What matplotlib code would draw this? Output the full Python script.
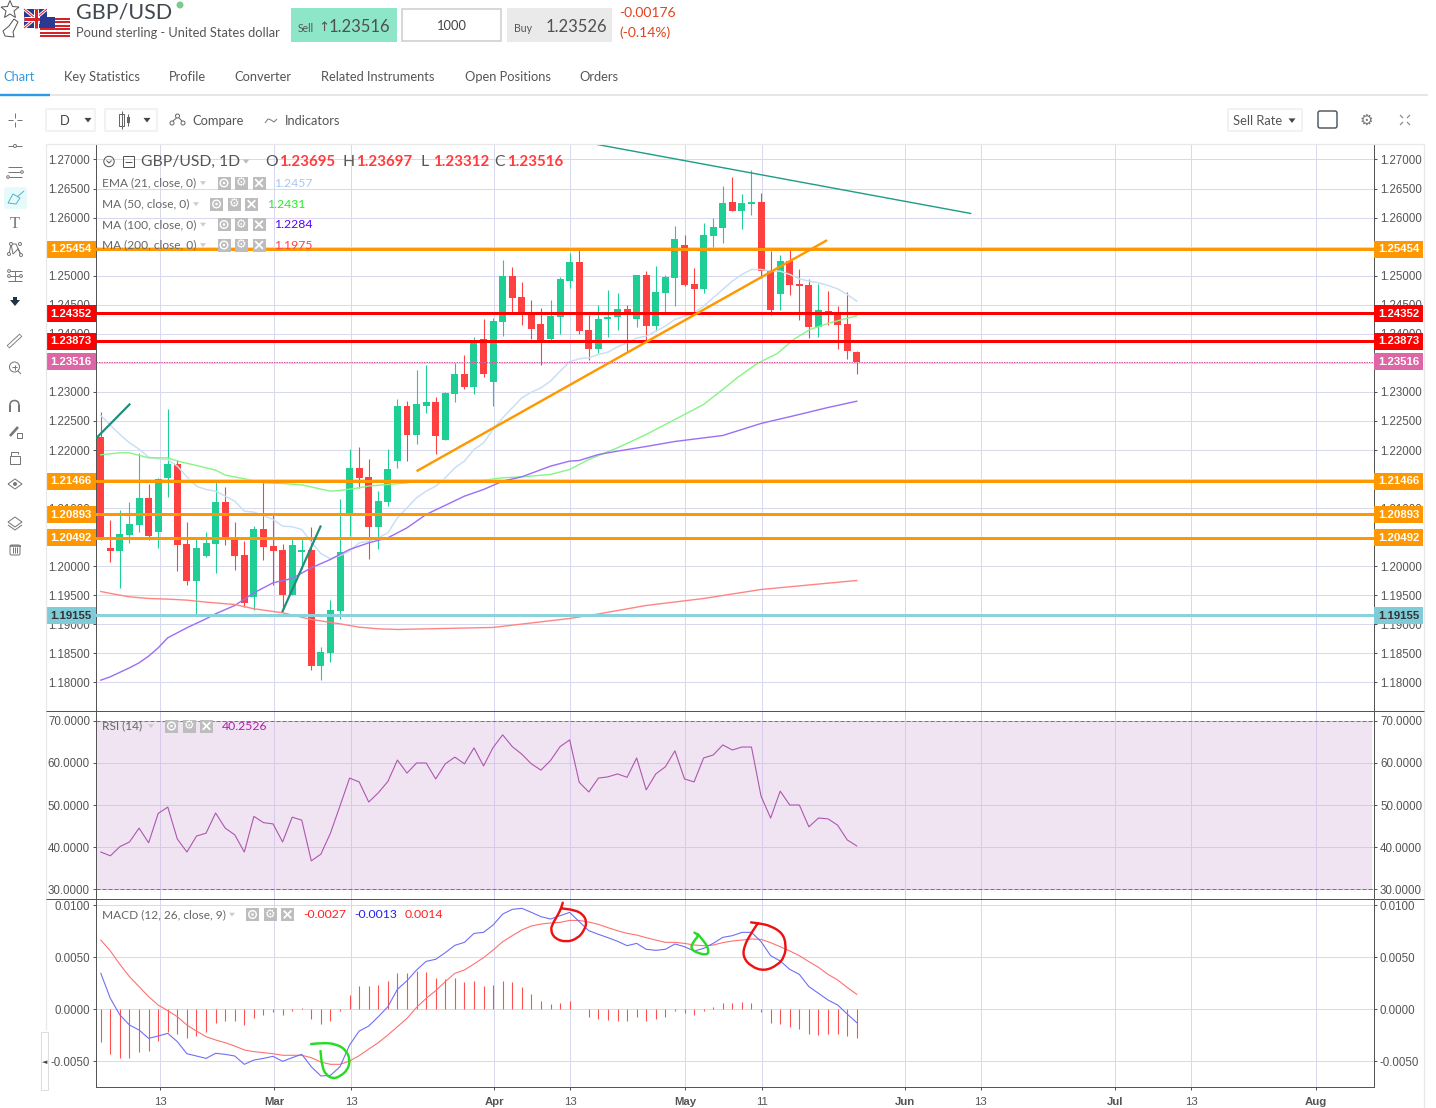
import matplotlib
matplotlib.use("Agg")
import matplotlib.pyplot as plt
from matplotlib.patches import Rectangle, Polygon, Circle, FancyBboxPatch, PathPatch
from matplotlib.path import Path

# ---------------- data ----------------
opens = [1.22216,1.20306,1.20260,1.20530,1.20702,1.21166,1.20581,1.21510,1.21751,1.20375,
 1.19738,1.20168,1.20375,1.21097,1.20489,1.20185,1.19463,1.20633,1.20340,1.20271,
 1.19497,1.20237,1.20271,1.18275,1.18499,1.19222,1.20856,1.21682,1.21528,1.20667,
 1.21097,1.21803,1.22749,1.22250,1.22766,1.22818,1.22164,1.22956,1.23300,1.23093,
 1.23902,1.23179,1.24195,1.24986,1.24625,1.24350,1.24160,1.23902,1.24281,1.24917,
 1.25244,1.24057,1.23730,1.24247,1.24281,1.24419,1.24247,1.25004,1.24126,1.24694,
 1.24952,1.25520,1.24849,1.24763,1.25675,1.25813,1.26260,1.26105,1.26226,1.26260,
 1.25090,1.24677,1.25245,1.24849,1.24832,1.24109,1.24396,1.24361,1.24161,1.23695]
highs = [1.22658,1.20788,1.20960,1.21097,1.21941,1.21407,1.21522,1.22698,1.21820,1.20753,
 1.20478,1.20581,1.21459,1.21356,1.20753,1.20426,1.20684,1.21442,1.20874,1.20375,
 1.20478,1.20478,1.20667,1.18602,1.19411,1.21149,1.22009,1.22044,1.21837,1.21287,
 1.22009,1.22870,1.22835,1.23369,1.23455,1.22904,1.22990,1.23506,1.23627,1.23937,
 1.24246,1.24264,1.25262,1.25141,1.24883,1.24573,1.24436,1.24573,1.24969,1.25382,
 1.25434,1.24332,1.24504,1.24746,1.24694,1.24488,1.25004,1.25073,1.25159,1.25004,
 1.25847,1.25692,1.25124,1.25899,1.25985,1.26535,1.26690,1.26398,1.26811,1.26415,
 1.25417,1.25348,1.25434,1.25107,1.24935,1.24849,1.24728,1.24470,1.24711,1.23697]
lows = [1.20444,1.20071,1.19618,1.20392,1.20581,1.20444,1.20306,1.21183,1.19910,1.19669,
 1.19170,1.20151,1.19876,1.20357,1.19927,1.19291,1.19239,1.20099,1.19669,1.19239,
 1.19497,1.19944,1.18206,1.18034,1.18344,1.19084,1.20518,1.21338,1.20117,1.20289,
 1.21029,1.21682,1.21803,1.22095,1.22629,1.21923,1.22164,1.22818,1.23042,1.22956,
 1.23248,1.22749,1.23954,1.24361,1.24143,1.23902,1.23455,1.23885,1.23988,1.24780,
 1.24005,1.23541,1.23678,1.23937,1.24057,1.23679,1.24109,1.23885,1.24040,1.24361,
 1.24470,1.24815,1.24361,1.24694,1.25486,1.25554,1.26105,1.25795,1.26036,1.24952,
 1.24315,1.24402,1.24660,1.24229,1.23920,1.23937,1.24143,1.23730,1.23558,1.23312]
closes = [1.20461,1.20260,1.20547,1.20719,1.21166,1.20512,1.21493,1.21751,1.20357,1.19738,
 1.20306,1.20392,1.21097,1.20461,1.20168,1.19359,1.20633,1.20323,1.20254,1.19497,
 1.20357,1.20271,1.18275,1.18516,1.19239,1.20237,1.21682,1.21510,1.20667,1.21115,
 1.21665,1.22749,1.22250,1.22784,1.22818,1.22233,1.22973,1.23300,1.23093,1.23868,
 1.23300,1.24212,1.24986,1.24608,1.24350,1.24091,1.23885,1.24298,1.24935,1.25244,
 1.24040,1.23730,1.24246,1.24281,1.24419,1.24373,1.25004,1.24126,1.24711,1.24969,
 1.25623,1.24832,1.24763,1.25692,1.25830,1.26243,1.26105,1.26243,1.26260,1.25073,
 1.24402,1.25245,1.24832,1.24815,1.24109,1.24402,1.24350,1.24143,1.23696,1.23516]

ema21 = [1.22594,1.22428,1.22268,1.22124,1.22015,1.21877,1.21849,1.21837,1.21723,1.21539,
 1.21378,1.21321,1.21292,1.21206,1.21120,1.20948,1.20931,1.20874,1.20805,1.20690,
 1.20679,1.20633,1.20415,1.20220,1.20128,1.20185,1.20260,1.20403,1.20432,1.20489,
 1.20575,1.20833,1.21006,1.21178,1.21292,1.21378,1.21522,1.21694,1.21809,1.22009,
 1.22124,1.22353,1.22554,1.22726,1.22898,1.22996,1.23070,1.23185,1.23357,1.23518,
 1.23570,1.23587,1.23644,1.23684,1.23776,1.23845,1.23925,1.23960,1.24046,1.24132,
 1.24247,1.24304,1.24361,1.24476,1.24619,1.24763,1.24906,1.25021,1.25107,1.25107,
 1.25078,1.25078,1.25021,1.24946,1.24906,1.24878,1.24832,1.24774,1.24677,1.24562]
ma50_idx = [0,2,3,5,7,8,10,12,13,15,17,19,21,24,25,27,28,30,32,33,36,40,42,44,47,49,51,54,57,60,63,65,66.5,68.6,70.7,72.4,74.1,76.2,79]
ma50_val = [1.21918,1.21952,1.21952,1.21866,1.21866,1.21809,1.21734,1.21654,1.21568,1.21505,1.21436,1.21424,1.21401,1.21292,1.21304,1.21350,1.21380,1.21407,1.21436,1.21464,1.21470,1.21480,1.21522,1.21539,1.21579,1.21665,1.21837,1.22038,1.22268,1.22526,1.22784,1.23042,1.23243,1.23489,1.23661,1.23902,1.24074,1.24189,1.24310]
ma100_idx = [0,1,3,4,5,6,7,9,11,12,14,16,18,20,22,24,26,28,30,32,34,38,40,42,44,47,49,50,52,54,57,60,65,69,73,76,79]
ma100_val = [1.18040,1.18098,1.18252,1.18338,1.18453,1.18596,1.18769,1.18941,1.19096,1.19182,1.19325,1.19543,1.19715,1.19790,1.19973,1.20117,1.20289,1.20403,1.20489,1.20661,1.20891,1.21206,1.21321,1.21464,1.21539,1.21723,1.21809,1.21820,1.21923,1.21981,1.22061,1.22147,1.22250,1.22457,1.22612,1.22732,1.22840]
ma200_idx = [0,1,3,5,7,9,11,14,16,19,22,25,27,29,31,41,45,49,52,57,63,69,79]
ma200_val = [1.19566,1.19532,1.19474,1.19445,1.19434,1.19417,1.19382,1.19342,1.19268,1.19199,1.19084,1.19009,1.18952,1.18923,1.18912,1.18947,1.19024,1.19101,1.19179,1.19325,1.19445,1.19600,1.19755]

rsi = [38.8,37.9,40.1,41.2,44.5,41.0,48.0,49.5,41.9,38.8,42.6,43.3,48.1,44.5,42.9,38.8,47.3,45.8,45.5,41.2,
 47.1,46.4,36.7,38.3,43.3,49.8,56.4,55.5,50.7,52.9,55.6,60.7,57.6,60.0,60.0,56.2,59.8,61.4,59.8,63.6,
 59.3,63.7,66.7,63.9,62.1,59.8,58.3,60.6,63.9,65.5,55.4,53.1,56.4,56.7,57.4,56.6,61.2,53.6,57.4,59.1,
 62.9,56.2,55.5,61.2,61.9,64.3,63.1,63.8,63.8,52.1,46.9,53.3,50.0,50.0,44.8,46.9,46.7,45.2,41.7,40.25]

macd = [.00343,.00102,-.00058,-.00154,-.00202,-.00282,-.00260,-.00234,-.00314,-.00430,
 -.00452,-.00475,-.00426,-.00436,-.00452,-.00532,-.00491,-.00475,-.00455,-.00503,
 -.00468,-.00436,-.00555,-.00644,-.00638,-.00555,-.00346,-.00212,-.00164,-.00074,
 .00022,.00189,.00272,.00375,.00458,.00478,.00542,.00612,.00641,.00727,
 .00737,.00808,.00913,.00958,.00968,.00929,.00888,.00865,.00897,.00929,
 .00840,.00753,.00718,.00686,.00651,.00609,.00631,.00574,.00564,.00574,
 .00625,.00599,.00558,.00583,.00631,.00689,.00705,.00737,.00737,.00648,
 .00513,.00462,.00381,.00333,.00215,.00151,.00086,.00039,-.00048,-.00131]
signal = [.00663,.00558,.00429,.00311,.00215,.00119,.00038,-.00016,-.00074,-.00154,
 -.00212,-.00266,-.00298,-.00324,-.00356,-.00394,-.00410,-.00420,-.00430,-.00445,
 -.00445,-.00445,-.00468,-.00510,-.00532,-.00532,-.00500,-.00449,-.00385,-.00324,
 -.00250,-.00170,-.00090,.00016,.00102,.00176,.00263,.00343,.00375,.00433,
 .00494,.00567,.00647,.00705,.00760,.00798,.00817,.00827,.00833,.00852,
 .00852,.00836,.00814,.00782,.00753,.00727,.00711,.00686,.00663,.00641,
 .00641,.00631,.00615,.00609,.00615,.00638,.00654,.00663,.00673,.00670,
 .00638,.00599,.00558,.00513,.00455,.00401,.00333,.00279,.00208,.00141]
hist = [-.00314,-.00429,-.00468,-.00468,-.00410,-.00401,-.00304,-.00218,-.00237,-.00276,
 -.00256,-.00218,-.00131,-.00112,-.00112,-.00151,-.00083,-.00054,-.00026,-.00054,
 -.00016,.00006,-.00093,-.00141,-.00112,-.00016,.00135,.00221,.00221,.00231,
 .00269,.00346,.00346,.00365,.00356,.00298,.00288,.00298,.00260,.00269,
 .00221,.00231,.00269,.00260,.00212,.00144,.00077,.00048,.00058,.00077,
 0,-.00077,-.00096,-.00106,-.00115,-.00115,-.00077,-.00115,-.00096,-.00077,
 -.00019,-.00038,-.00058,-.00019,.00019,.00058,.00058,.00067,.00058,-.00026,
 -.00135,-.00144,-.00173,-.00192,-.00240,-.00250,-.00240,-.00240,-.00260,-.00279]

orange_levels = [1.25454,1.21466,1.20893,1.20492]
red_levels = [1.24352,1.23873]
last_level = 1.23516
teal_level = 1.19155

price_ticks = [1.18,1.185,1.19,1.195,1.20,1.205,1.21,1.215,1.22,1.225,1.23,1.235,1.24,1.245,1.25,1.255,1.26,1.265,1.27]
hidden_price_labels = [1.205,1.215,1.235,1.255]   # covered by the level tags in the reference
rsi_ticks = [30,40,50,60,70]
macd_ticks = [-0.005,0.0,0.005,0.01]
date_pos = [6.22,18.13,26.18,41.12,49.06,61.08,69.07,84.04,91.98,105.99,113.93,127.02]
date_lbl = ["13","Mar","13","Apr","13","May","11","Jun","13","Jul","13","Aug"]

trend_orange = ([33.0,75.9],[1.21636,1.25611])
trend_teal = ([51.3,90.9],[1.27275,1.26071])
trend_g1 = ([-0.4,3.0],[1.22216,1.22784])
trend_g2 = ([19.0,22.96],[1.19227,1.20684])

scribble_g1 = ([21.98,23.2,24.6,25.64,26.06,25.8,24.94,24.25,23.55,23.13,22.96],
               [-.00337,-.00324,-.00337,-.00394,-.00491,-.00587,-.00651,-.00670,-.00635,-.00555,-.00404])
scribble_r1 = ([48.28,48.11,47.76,47.24,47.0,47.41,48.63,49.85,50.55,50.79,50.37,49.5,48.11],
               [.01022,.00968,.00904,.00824,.00760,.00679,.00641,.00679,.00760,.00840,.00913,.00952,.00968])
scribble_g2 = ([62.04,62.56,62.04,61.59,62.39,63.54,63.43,62.91,62.39],
               [.00734,.00711,.00663,.00583,.00535,.00519,.00599,.00663,.00721])
scribble_r2 = ([67.96,68.83,70.05,71.27,71.62,71.45,70.75,69.36,67.96,67.09,67.27,67.96,68.66],
               [.00833,.00824,.00798,.00727,.00615,.00503,.00423,.00365,.00407,.00503,.00615,.00727,.00824])

# ---------------- layout ----------------
W, H = 1436, 1108
fig = plt.figure(figsize=(W/100, H/100), dpi=100, facecolor="white")
px = 0.72
TICKF = ["Liberation Sans", "DejaVu Sans"]
UIF = ["Lato", "DejaVu Sans"]
L, R = 96, 1374
XMIN, XMAX = -0.5, 133.054
GRID = "#D9D9EE"; TXT = "#555555"; DARK = "#555555"
UP = "#1FCE94"; DOWN = "#FF4040"

def panel(top, bottom):
    a = fig.add_axes([L/W, 1-bottom/H, (R-L)/W, (bottom-top)/H])
    a.set_xlim(XMIN, XMAX)
    a.set_xticks(date_pos)
    a.grid(True, color=GRID, lw=1*px)
    a.set_axisbelow(True)
    a.tick_params(axis="y", left=True, right=True, labelleft=True, labelright=True,
                  length=3*px, width=1*px, color=DARK, labelsize=8.3, labelcolor=TXT, pad=3*px)
    a.tick_params(axis="x", length=0, labelbottom=False)
    for s in a.spines.values():
        s.set_color(DARK); s.set_linewidth(1*px)
    return a

# main
ax = panel(144, 711)
ax.set_ylim(1.17518-0.00009, 1.27275-0.00009)
ax.set_yticks(price_ticks)
ax.set_yticklabels(["" if v in hidden_price_labels else f"{v:.5f}" for v in price_ticks], family=TICKF)
ax.spines["top"].set_visible(False)
idx = list(range(len(closes)))
cols = [UP if c >= o else DOWN for o, c in zip(opens, closes)]
ax.vlines(idx, lows, highs, colors=cols, lw=1.1*px, zorder=3)
ax.bar(idx, [max(abs(c-o), 0.00025) for o, c in zip(opens, closes)],
       bottom=[min(o, c) for o, c in zip(opens, closes)], width=0.73, color=cols, lw=0, zorder=3.1)
ax.plot(idx, ema21, color="#CADFF3", lw=1.5*px, zorder=3.3)
ax.plot(ma50_idx, ma50_val, color="#86F586", lw=1.4*px, zorder=3.3)
ax.plot(ma100_idx, ma100_val, color="#9B6FF5", lw=1.4*px, zorder=3.3)
ax.plot(ma200_idx, ma200_val, color="#FF8585", lw=1.4*px, zorder=3.3)
for v in orange_levels:
    ax.axhline(v, color="#FF9800", lw=3*px, zorder=4)
for v in red_levels:
    ax.axhline(v, color="#FF0000", lw=3*px, zorder=4)
ax.axhline(last_level, color="#E0559F", lw=1*px, ls=(0, (1.5, 1)), zorder=4)
ax.axhline(teal_level, color="#8CD2DA", lw=3*px, zorder=4)
ax.plot(*trend_orange, color="#FF9800", lw=2.4*px, zorder=4.2, solid_capstyle="butt")
ax.plot(*trend_teal, color="#1E9C84", lw=1.4*px, zorder=4.2)
ax.plot(*trend_g1, color="#1E8F7C", lw=2.2*px, zorder=4.2)
ax.plot(*trend_g2, color="#1E8F7C", lw=2.2*px, zorder=4.2)

h_tag = 17/5811
def tag(v, col, fc="white"):
    tr = ax.get_yaxis_transform()
    wl, wr = 50/(R-L), 49/(R-L)
    for x0, w, xc in ((-wl, wl, -wl/2), (1, wr, 1+wr/2)):
        ax.add_patch(Rectangle((x0, v-h_tag/2), w, h_tag, transform=tr, clip_on=False,
                               facecolor=col, edgecolor="none", zorder=20))
        ax.text(xc, v-0.00003, f"{v:.5f}", transform=tr, ha="center", va="center", color=fc,
                fontsize=8.2, fontweight="bold", family=TICKF, zorder=21, clip_on=False)
for v in orange_levels:
    tag(v, "#FF9800")
for v in red_levels:
    tag(v, "#FF0000")
tag(last_level, "#DD66A6")
tag(teal_level, "#7FCCD8", "#333333")

# RSI
ax2 = panel(711, 899)
ax2.set_ylim(27.62, 72.38)
ax2.set_yticks(rsi_ticks)
ax2.set_yticklabels([f"{v:.4f}" for v in rsi_ticks], family=TICKF)
ax2.axhspan(30, 70, xmin=0, xmax=0.9985, color="#F0E4F2", lw=0, zorder=0.1)
ax2.grid(True, color="#D6C9EA", lw=1*px)
ax2.axhline(70, color="#777777", lw=1*px, ls=(0, (4, 2)), zorder=2)
ax2.axhline(30, color="#777777", lw=1*px, ls=(0, (4, 2)), zorder=2)
ax2.plot(idx, rsi, color="#AE55B0", lw=1.1*px, zorder=3)

# MACD
ax3 = panel(899, 1087)
ax3.set_ylim(-0.0075, 0.010577)
ax3.set_yticks(macd_ticks)
ax3.set_yticklabels([f"{v:.4f}" for v in macd_ticks], family=TICKF)
ax3.vlines(idx, 0, hist, colors="#FF5050", lw=1.1*px, zorder=3)
ax3.plot(idx, macd, color="#6E6EF5", lw=1.1*px, zorder=3.2)
ax3.plot(idx, signal, color="#FF7070", lw=1.1*px, zorder=3.1)

def freehand(a, xs, ys, col):
    # quadratic curve through the midpoints of the hand-drawn stroke's points
    verts, codes = [(xs[0], ys[0])], [Path.MOVETO]
    for k in range(1, len(xs)-1):
        verts += [(xs[k], ys[k]), ((xs[k]+xs[k+1])/2, (ys[k]+ys[k+1])/2)]
        codes += [Path.CURVE3, Path.CURVE3]
    verts.append((xs[-1], ys[-1])); codes.append(Path.LINETO)
    a.add_patch(PathPatch(Path(verts, codes), fc="none", ec=col, lw=2.4*px, zorder=5,
                          capstyle="round", joinstyle="round"))
for sc, col in ((scribble_g1, "#22DD22"), (scribble_g2, "#22DD22"), (scribble_r1, "#EE1111"), (scribble_r2, "#EE1111")):
    freehand(ax3, sc[0], sc[1], col)
ax3.tick_params(axis="x", labelbottom=True, length=3*px, width=1*px, color=DARK, pad=7*px)
ax3.set_xticklabels(date_lbl)
for lab, s in zip(ax3.get_xticklabels(), date_lbl):
    lab.set_family(TICKF); lab.set_fontsize(8.2); lab.set_color(TXT)
    lab.set_fontweight("bold" if s.isalpha() else "normal")

# ---------------- UI overlay (pixel coordinates) ----------------
ui = fig.add_axes([0, 0, 1, 1], zorder=50)
ui.set_xlim(0, W); ui.set_ylim(H, 0); ui.axis("off"); ui.patch.set_alpha(0)

def T(x, y, s, size=9, color="#555555", ha="left", family=UIF, weight="normal", z=60):
    return ui.text(x, y+0.7, s, fontsize=size, color=color, ha=ha, va="center", family=family, fontweight=weight, zorder=z)
def B(x0, y0, x1, y1, fc="none", ec="none", lw=1, z=55, rounded=0):
    if rounded:
        p = FancyBboxPatch((x0, y0), x1-x0, y1-y0, boxstyle=f"round,pad=0,rounding_size={rounded}", fc=fc, ec=ec, lw=lw*px, zorder=z)
    else:
        p = Rectangle((x0, y0), x1-x0, y1-y0, fc=fc, ec=ec, lw=lw*px, zorder=z)
    ui.add_patch(p)
def LN(xs, ys, c="#666666", lw=1, z=56):
    ui.plot(xs, ys, color=c, lw=lw*px, zorder=z, solid_capstyle="butt")
def CI(x, y, r, fc="none", ec="#777777", lw=1, z=57):
    ui.add_patch(Circle((x, y), r, fc=fc, ec=ec, lw=lw*px, zorder=z))
def caret(x, y, c="#444444", s=3.5):
    ui.add_patch(Polygon([(x-s, y-s*0.6), (x+s, y-s*0.6), (x, y+s*0.7)], fc=c, ec="none", zorder=58))

# star + bell icons
star = [(10,0.5),(12.5,6.5),(19,7),(14,11),(15.5,17.5),(10,14),(4.5,17.5),(6,11),(1,7),(7.5,6.5)]
ui.add_patch(Polygon(star, fc="white", ec="#555555", lw=1*px, zorder=56))
ui.add_patch(Polygon([(14,19),(18,22),(13,32),(14,37),(5,36),(3,31),(9,26)], fc="white", ec="#555555", lw=1*px, zorder=56))
# flags
B(24, 9, 47, 28, fc="#2B3990")
LN([24,47],[9,28],"white",3); LN([24,47],[28,9],"white",3)
LN([24,47],[9,28],"#D8222A",1); LN([24,47],[28,9],"#D8222A",1)
LN([35.5,35.5],[9,28],"white",5); LN([24,47],[18.5,18.5],"white",5)
LN([35.5,35.5],[9,28],"#D8222A",3); LN([24,47],[18.5,18.5],"#D8222A",3)
B(40, 17, 70, 37, fc="white", z=56)
for yy in (18.5, 22, 25.5, 29, 32.5, 36):
    LN([40,70],[yy,yy],"#D8222A",2, z=57)
B(40, 17, 55, 28, fc="#2B3990", z=58)

T(76, 11.5, "GBP/USD", 15.5, "#404850")
ui.add_patch(Circle((180, 5), 3.5, fc="#7BCB8E", ec="none", zorder=58))
T(76, 32, "Pound sterling - United States dollar", 9.3, "#555555")
B(291, 8, 397, 42, fc="#8DE6C7")
T(298, 27.5, "Sell", 7.6, "#555555")
T(318, 26.5, "↑", 9.5, "#555555", family=["DejaVu Sans"])
T(329, 26.5, "1.23516", 12, "#505050")
B(402, 9, 501, 41, fc="white", ec="#CCCCCC", lw=1.5)
T(452, 25.5, "1000", 9.3, "#444444", ha="center")
B(507, 8, 612, 42, fc="#EAEAEA")
T(514, 28, "Buy", 7.6, "#555555")
T(546, 26.5, "1.23526", 12, "#505050")
T(619, 12, "-0.00176", 10, "#E2431E")
T(619, 32, "(-0.14%)", 10, "#E2431E")

for x, s, c in ((3,"Chart","#2E9BE6"),(64,"Key Statistics","#555555"),(169,"Profile","#555555"),(234,"Converter","#555555"),
                (321,"Related Instruments","#555555"),(465,"Open Positions","#555555"),(579,"Orders","#555555")):
    T(x, 76, s, 9.3, c)
LN([0,1428],[95,95],"#E6E6E6",2)
LN([0,50],[95,95],"#2E9BE6",2.4, z=57)

# toolbar
B(46, 109, 95, 131, fc="white", ec="#EEEEEE", lw=1.5)
T(65, 120, "D", 9.3, "#444444", ha="center")
caret(88, 120)
B(105, 109, 157, 131, fc="white", ec="#EEEEEE", lw=1.5)
B(119, 114, 124, 126, fc="white", ec="#666666")
LN([121.5,121.5],[111,129]); LN([128,128],[114,126]); B(126.5, 117, 129.5, 123, fc="#666666", z=57)
caret(147, 120)
CI(172, 123, 2, ec="#666666"); CI(183, 123, 2, ec="#666666"); CI(177.5, 116, 2, ec="#666666")
LN([173,176.5],[121,118]); LN([179,182],[118,121])
T(192, 120, "Compare", 9.3, "#555555")
LN([265,268,271,274,277],[123,119,120,122,119],"#777777")
T(285, 120, "Indicators", 9.3, "#555555")
B(1228, 109, 1302, 131, fc="white", ec="#EEEEEE", lw=1.5)
T(1233, 120, "Sell Rate", 9.3, "#555555")
caret(1292, 120.5)
B(1318, 111, 1337, 128, fc="white", ec="#44505A", lw=1.4, rounded=2)
T(1366, 119.5, "⚙", 11, "#777777", ha="center", family=["DejaVu Sans"])
for sx, sy in ((-1,-1),(1,-1),(-1,1),(1,1)):
    LN([1405+sx*2, 1405+sx*5],[120+sy*2, 120+sy*5],"#888888",1.2)

# frame and separators
LN([46,1424],[144,144],"#E8E8E8",1.2, z=5)
LN([46,46],[144,1030],"#E8E8E8",1.2, z=5)
LN([1424,1424],[144,1108],"#E8E8E8",1.2, z=5)
LN([46,1424],[711,711],DARK,1, z=5)
LN([46,1424],[899,899],DARK,1, z=5)
B(41, 1032, 48, 1090, fc="white", ec="#DDDDDD", lw=1)
T(44.5, 1061, "◄", 5, "#444444", ha="center", family=["DejaVu Sans"])

# left tool icons
G = "#777777"
LN([8,13],[120,120],G); LN([17,22],[120,120],G); LN([15,15],[113,118],G); LN([15,15],[122,127],G)
LN([8,22],[146,146],G); CI(15,146,1.5,fc="white",ec=G)
LN([8,22],[167,167],G); LN([8,21],[172,172],G); CI(22,172,1.3,fc="white",ec=G); LN([9,22],[177,177],G); CI(8,177,1.3,fc="white",ec=G)
B(4, 187, 27, 209, fc="#E6FAFB", rounded=3, z=54)
LN([8,13,20,16,8],[203,194,198,204,203],"#56B5C6"); LN([17,24],[197,191],"#56B5C6")
T(15, 223.5, "T", 12, "#777777", ha="center", family=["Liberation Serif"])
LN([11,13,18,21,16,11,9],[244,254,249,255,244,244,254],G)
for xx, yy in ((11,244),(21,255),(9,254),(20,244)):
    CI(xx,yy,1.5,fc="white",ec=G)
for yy in (271,276,281): LN([8,22],[yy,yy],G)
LN([15,15],[271,281],G); CI(9,276,1.4,fc="white",ec=G); CI(21,276,1.4,fc="white",ec=G); CI(9,271,1.4,fc="white",ec=G)
ui.add_patch(Polygon([(15,306),(10,300),(13,300),(13,297),(17,297),(17,300),(20,300)], fc="#223344", ec="none", zorder=57))
LN([8,21],[347,335],G,4); LN([8.5,20.5],[346.5,335.5],"white",2.2, z=57)
CI(14.5,367,5,ec=G); LN([18,21],[371,374],G); LN([12,17],[367,367],G); LN([14.5,14.5],[364.5,369.5],G)
LN([10,10],[412,405],G,2); LN([19,19],[412,405],G,2)
ui.add_patch(PathPatch(Path([(10,405),(10,399),(19,399),(19,405)],[Path.MOVETO,Path.CURVE4,Path.CURVE4,Path.CURVE4]),fc="none",ec=G,lw=1.6*px,zorder=56))
LN([10,18],[436,427],G,2.6); B(17,433,22,438,fc="white",ec=G)
B(10, 456, 20, 464, ec=G); LN([11,11,18,18],[456,452,452,454],G)
CI(15,484,2,fc=G,ec="none")
LN([8,15,22,15,8],[484,479,484,489,484],G)
ui.add_patch(Polygon([(15,517),(22,522),(15,527),(8,522)],fc="white",ec=G,lw=px,zorder=56))
LN([8,15,22],[525,530,525],G)
B(10, 545, 20, 555, ec=G, rounded=1.5); LN([9.5,20.5],[546,546],G,1.6)
for xx in (13,15,17): LN([xx,xx],[547,553],G)

# chart legends
CI(109,161.5,5.2,ec="#555555")
LN([106.5,109,111.5],[160.5,163,160.5],"#555555")
B(122.5,156,134,167,ec="#555555"); LN([125,132],[161.5,161.5],"#555555")
T(141, 161.5, "GBP/USD, 1D", 11.3, "#555555")
caret(246, 161.5, "#BBBBBB", 3.2)
for x, lab, vx, val in ((265,"O",279,"1.23695"),(343,"H",356,"1.23697"),(421,"L",433,"1.23312"),(494,"C",507,"1.23516")):
    T(x, 161.5, lab, 11.3, "#555555")
    T(vx, 161.5, val, 10.8, "#FF3B3B", weight="bold")

def leg(y, name, x_c, bx, vx, val, col):
    T(102, y-0.5, name, 8.6, "#666666")
    caret(x_c, y, "#CCCCCC", 3)
    for k in range(3):
        x0 = bx + k*17.5
        B(x0, y-6.5, x0+13, y+6.5, fc="#BDBDBD")
    cx = bx + 6.5
    CI(cx, y, 3.8, ec="white", lw=1.4, z=61); CI(cx, y, 1.3, fc="white", ec="none", z=61)
    T(cx+17.5, y-0.8, "⚙", 8.5, "white", ha="center", family=["DejaVu Sans"], z=61)
    LN([cx+35-3.8, cx+35+3.8],[y-3.8, y+3.8],"white",1.8, z=61)
    LN([cx+35-3.8, cx+35+3.8],[y+3.8, y-3.8],"white",1.8, z=61)
    T(vx, y-0.5, val, 8.8, col)
leg(183, "EMA (21, close, 0)", 203, 217.5, 274, "1.2457", "#A8C8EE")
leg(204, "MA (50, close, 0)", 196, 210, 267, "1.2431", "#22EE22")
leg(224.5, "MA (100, close, 0)", 203, 217.5, 274, "1.2284", "#5500FF")
leg(245, "MA (200, close, 0)", 203, 217.5, 274, "1.1975", "#FF4444")
leg(726, "RSI (14)", 151, 165, 222, "40.2526", "#AA22AA")
leg(914.5, "MACD (12, 26, close, 9)", 232, 246, 303, "-0.0027", "#FF2222")
T(354, 914, "-0.0013", 8.8, "#2222EE")
T(405, 914, "0.0014", 8.8, "#FF2222")

fig.savefig("out.png", dpi=100, facecolor="white")
